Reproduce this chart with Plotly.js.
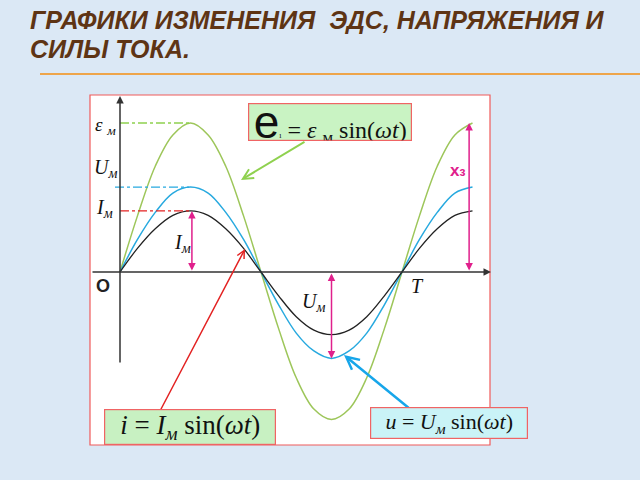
<!DOCTYPE html>
<html>
<head>
<meta charset="utf-8">
<script src="https://cdn.plot.ly/plotly-3.0.1.min.js"></script>
<style>html,body{margin:0;padding:0;background:#dbe8f5;}#chart{width:640px;height:480px;}</style>
</head>
<body>
<div id="chart"></div>
<script>
// time in periods T
const timeT = [0, 0.0625, 0.125, 0.1875, 0.25, 0.3125, 0.375, 0.4375, 0.5, 0.5625, 0.625, 0.6875, 0.75, 0.8125, 0.875, 0.9375, 1, 1.0625, 1.125, 1.1875, 1.25];
// EMF e (normalised to eps_m)
const emf = [0, 0.38, 0.71, 0.92, 1.0, 0.92, 0.71, 0.38, 0, -0.38, -0.71, -0.92, -0.99, -0.92, -0.71, -0.38, 0, 0.38, 0.71, 0.92, 1.0];
// voltage u
const voltage = [0, 0.22, 0.40, 0.53, 0.57, 0.53, 0.40, 0.22, 0, -0.22, -0.41, -0.53, -0.58, -0.53, -0.41, -0.22, 0, 0.22, 0.40, 0.53, 0.57];
// current i
const current = [0, 0.16, 0.29, 0.38, 0.41, 0.38, 0.29, 0.16, 0, -0.16, -0.30, -0.39, -0.42, -0.39, -0.30, -0.16, 0, 0.16, 0.29, 0.38, 0.41];

const EPS_M = emf[4], U_M = voltage[4], I_M = current[4], U_MIN = voltage[12];

// pixel helpers for layout placement
const X = px => (px - 120) / 282;
const Y = py => (272 - py) / 149;
const PX = px => (px - 90) / 400;
const PY = py => (445 - py) / 350;

const serif = 'Liberation Serif, DejaVu Serif, serif';
const green = '#9dc65a', blue = '#27a9df', black = '#222222', red = '#e32222', mag = '#e0208c';

const traces = [
  {x: timeT, y: emf, mode: 'lines', line: {color: green, width: 1.5, shape: 'spline', smoothing: 1}, hoverinfo: 'skip'},
  {x: timeT, y: voltage, mode: 'lines', line: {color: blue, width: 1.5, shape: 'spline', smoothing: 1}, hoverinfo: 'skip'},
  {x: timeT, y: current, mode: 'lines', line: {color: black, width: 1.3, shape: 'spline', smoothing: 1}, hoverinfo: 'skip'}
];

const shapes = [
  {type: 'rect', xref: 'paper', yref: 'paper', x0: 0, x1: 1, y0: 0, y1: 1, line: {color: '#f05a5a', width: 1.2}, layer: 'below'},
  {type: 'line', xref: 'paper', yref: 'paper', x0: PX(40), x1: PX(640), y0: PY(74), y1: PY(74), line: {color: '#eea54a', width: 2}},
  {type: 'line', x0: 0, x1: 0.25, y0: EPS_M, y1: EPS_M, line: {color: '#8fd14f', width: 1.3, dash: 'dashdot'}},
  {type: 'line', x0: X(115), x1: 0.245, y0: U_M, y1: U_M, line: {color: blue, width: 1.3, dash: 'dashdot'}},
  {type: 'line', x0: 0, x1: 0.245, y0: I_M, y1: I_M, line: {color: red, width: 1.3, dash: 'dashdot'}}
];

function arrow(x, y, ax, ay, color, width, head, both) {
  return {x: x, y: y, ax: ax, ay: ay, xref: 'x', yref: 'y', axref: 'x', ayref: 'y', text: '',
    showarrow: true, arrowhead: head, startarrowhead: head, arrowsize: 1, arrowwidth: width, arrowcolor: color,
    arrowside: both ? 'end+start' : 'end', standoff: 0, startstandoff: 0};
}
function label(px, py, text, size, color, family) {
  return {x: X(px), y: Y(py), xref: 'x', yref: 'y', xanchor: 'center', yanchor: 'middle', text: text, showarrow: false,
    font: {family: family || serif, size: size, color: color || '#111'}};
}
function box(px, py, text, size, bg, w, h) {
  return {x: PX(px), y: PY(py), xref: 'paper', yref: 'paper', xanchor: 'center', yanchor: 'middle', showarrow: false,
    text: text, font: {family: serif, size: size, color: '#111'}, bgcolor: bg, bordercolor: '#f06464',
    borderwidth: 1.2, borderpad: 0, width: w, height: h, align: 'center', valign: 'middle'};
}
const titleFont = {family: 'Liberation Sans, Arial, sans-serif', size: 25, color: '#5e3414', weight: 'bold'};

const annotations = [
  arrow(0, Y(96), 0, Y(364), '#333', 1.5, 2, false),
  arrow(X(491), 0, X(91), 0, '#333', 1.5, 2, false),
  arrow(0.255, I_M, 0.255, 0, mag, 1.5, 2, true),
  arrow(0.75, U_MIN, 0.75, 0, mag, 1.5, 2, true),
  arrow(1.238, EPS_M, 1.238, 0, mag, 1.5, 2, true),
  arrow(X(241), Y(180), X(306), Y(141), '#8fd14f', 2, 5, false),
  arrow(X(245), Y(249), X(160), Y(411), red, 1.5, 5, false),
  arrow(X(344), Y(355), X(410), Y(409), '#17a6ea', 2.5, 5, false),
  label(105, 126, '<i>ε</i> <sub><i>м</i></sub>', 19),
  label(105, 168, '<i>U<sub>м</sub></i>', 20),
  label(104, 208, '<i>I<sub>м</sub></i>', 20),
  label(182, 243, '<i>I<sub>м</sub></i>', 20),
  label(313, 302, '<i>U<sub>м</sub></i>', 20),
  label(417, 286, '<i>T</i>', 20),
  label(103, 286, '<b>O</b>', 18, '#222', 'Liberation Sans, Arial, sans-serif'),
  label(457, 170, '<b>x<span style="font-size:12px">з</span></b>', 17, mag, 'Liberation Sans, Arial, sans-serif'),
  box(330, 122, '<span style="font-family:Liberation Sans, Arial, sans-serif;font-size:46px">e</span><span style="font-size:8px">ı</span> = <i>ε</i> <sub>м</sub> sin(<i>ωt</i>)', 24, '#c9f3c3', 162, 36),
  box(190, 427, '<i>i</i> = <i>I<sub>м</sub></i> sin(<i>ωt</i>)', 27, '#c8f1c2', 170, 34),
  box(449, 423, '<i>u</i> = <i>U<sub>м</sub></i> sin(<i>ωt</i>)', 22, '#caf3f7', 156, 30),
  {x: PX(28), y: PY(20), xref: 'paper', yref: 'paper', xanchor: 'left', yanchor: 'middle', showarrow: false,
    text: '<i>ГРАФИКИ ИЗМЕНЕНИЯ  ЭДС, НАПРЯЖЕНИЯ И</i>', font: titleFont},
  {x: PX(28), y: PY(49), xref: 'paper', yref: 'paper', xanchor: 'left', yanchor: 'middle', showarrow: false,
    text: '<i>СИЛЫ ТОКА.</i>', font: titleFont}
];

const layout = {
  width: 640, height: 480,
  margin: {l: 90, r: 150, t: 95, b: 35},
  paper_bgcolor: '#dbe8f5',
  plot_bgcolor: '#ffffff',
  showlegend: false,
  xaxis: {range: [X(90), X(490)], visible: false, fixedrange: true},
  yaxis: {range: [Y(445), Y(95)], visible: false, fixedrange: true},
  shapes: shapes,
  annotations: annotations
};

Plotly.newPlot('chart', traces, layout, {displayModeBar: false, staticPlot: true});
</script>
</body>
</html>
